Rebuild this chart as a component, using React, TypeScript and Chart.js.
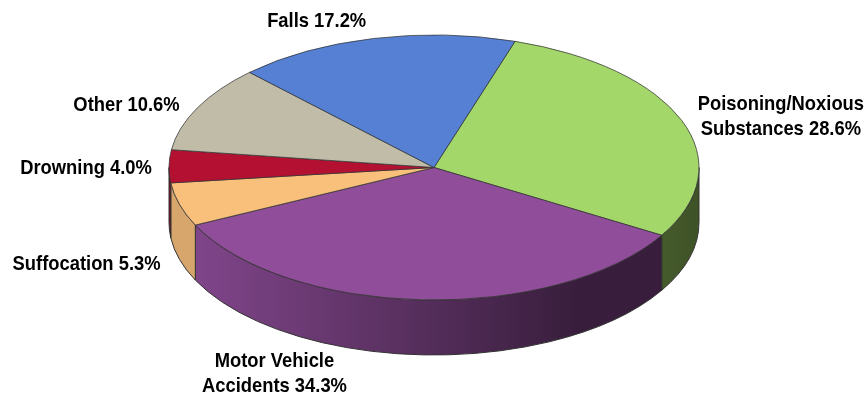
import React, { useEffect, useRef } from "react";
import { Chart, registerables } from "chart.js";

Chart.register(...registerables);

const categories: string[][] = [
  ["Poisoning/Noxious", "Substances 28.6%"],
  ["Motor Vehicle", "Accidents 34.3%"],
  ["Suffocation 5.3%"],
  ["Drowning 4.0%"],
  ["Other 10.6%"],
  ["Falls 17.2%"],
];
const values = [28.6, 34.3, 5.3, 4.0, 10.6, 17.2];
const topColors = ["#a3d76a", "#904d99", "#f9c07c", "#b41132", "#c0bca8", "#5580d4"];
const sideStart = ["#475c2c", "#80458a", "#d6a66c", "#7e0c23", "#8a8776", "#3b5a96"];
const sideEnd = ["#3f5328", "#381e3c", "#d6a66c", "#7e0c23", "#8a8776", "#3b5a96"];
const labelOffsets = [
  [99, -4],
  [-148, 73.5],
  [-93, 60],
  [-83, 2],
  [-71, -3],
  [-57, -17],
];

const SQUASH = 0.5;
const DEPTH = 55;
const EDGE = "#333333";

const pie3d = {
  id: "pie3d",
  beforeDatasetsDraw(chart: any) {
    const ctx = chart.ctx;
    const arcs = chart.getDatasetMeta(0).data;
    ctx.save();
    arcs.forEach((arc: any, i: number) => {
      const rx = arc.outerRadius;
      const ry = rx * SQUASH;
      const TAU = Math.PI * 2;
      for (const shift of [0, TAU]) {
        const a = Math.max(arc.startAngle - shift, 0);
        const b = Math.min(arc.endAngle - shift, Math.PI);
        if (b <= a) continue;
        // clockwise angles run right to left on the front wall; colours are given left to right
        const g = ctx.createLinearGradient(arc.x + rx * Math.cos(b), 0, arc.x + rx * Math.cos(a), 0);
        g.addColorStop(0, sideStart[i]);
        g.addColorStop(0.82, sideEnd[i]);
        g.addColorStop(1, sideEnd[i]);
        ctx.beginPath();
        ctx.ellipse(arc.x, arc.y, rx, ry, 0, a, b);
        ctx.ellipse(arc.x, arc.y + DEPTH, rx, ry, 0, b, a, true);
        ctx.closePath();
        ctx.fillStyle = g;
        ctx.fill();
        ctx.strokeStyle = EDGE;
        ctx.lineWidth = 1;
        ctx.stroke();
      }
    });
    ctx.restore();
    const cy = arcs[0].y;
    ctx.save();
    ctx.translate(0, cy);
    ctx.scale(1, SQUASH);
    ctx.translate(0, -cy);
  },
  afterDatasetsDraw(chart: any) {
    chart.ctx.restore();
  },
  afterDraw(chart: any) {
    const ctx = chart.ctx;
    const arcs = chart.getDatasetMeta(0).data;
    ctx.save();
    ctx.fillStyle = "#000";
    ctx.font = "bold 21px 'Liberation Sans'";
    ctx.textAlign = "center";
    ctx.textBaseline = "middle";
    arcs.forEach((arc: any, i: number) => {
      const mid = (arc.startAngle + arc.endAngle) / 2;
      const x = arc.x + arc.outerRadius * Math.cos(mid) + labelOffsets[i][0];
      const y = arc.y + arc.outerRadius * SQUASH * Math.sin(mid) + labelOffsets[i][1];
      const lines = categories[i];
      lines.forEach((line, j) => {
        ctx.save();
        ctx.translate(x, y + (j - (lines.length - 1) / 2) * 25);
        ctx.scale(0.875, 1);
        ctx.fillText(line, 0, 0);
        ctx.restore();
      });
    });
    ctx.restore();
  },
};

export default function App() {
  const ref = useRef<HTMLCanvasElement>(null);
  useEffect(() => {
    const chart = new Chart(ref.current!, {
      type: "pie",
      data: {
        labels: categories.map((c) => c.join(" ")),
        datasets: [
          {
            data: values,
            backgroundColor: topColors,
            borderColor: EDGE,
            borderWidth: 1,
            clip: false,
          } as any,
        ],
      },
      options: {
        responsive: false,
        animation: false,
        rotation: 17.8,
        radius: 265,
        layout: { padding: { top: 0, bottom: 63, left: 0, right: 0 } },
        plugins: { legend: { display: false }, tooltip: { enabled: false } },
        events: [],
      },
      plugins: [pie3d],
    });
    return () => chart.destroy();
  }, []);
  return (
    <canvas
      ref={ref}
      width={868}
      height={398}
      style={{ position: "absolute", left: 0, top: 0, display: "block" }}
    />
  );
}
